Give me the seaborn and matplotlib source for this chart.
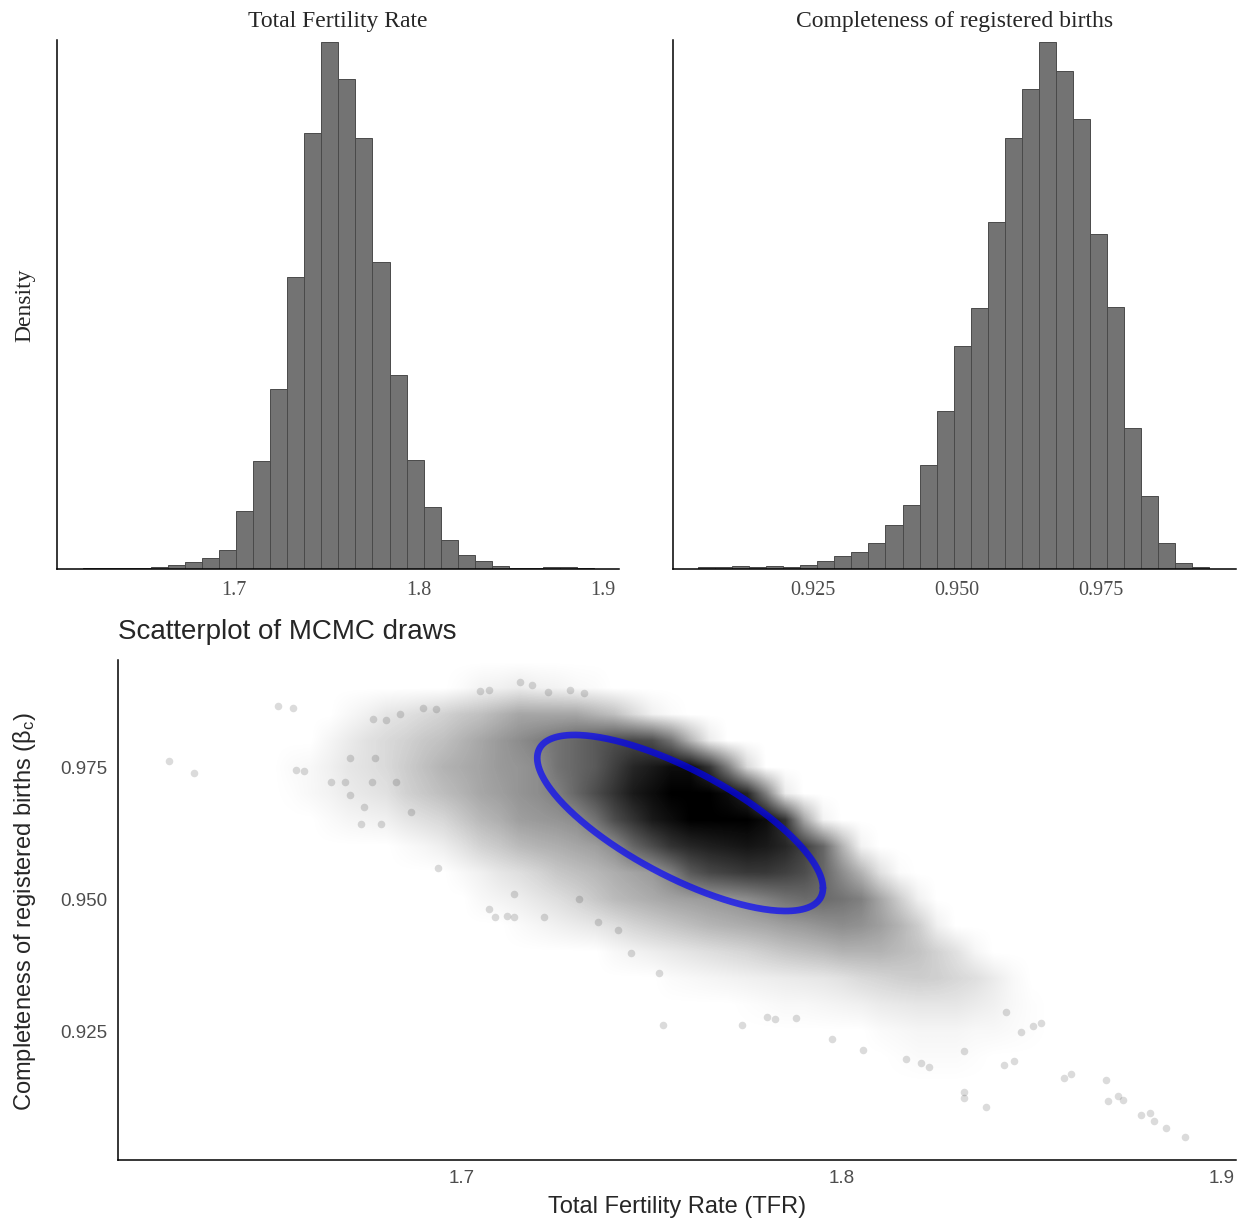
import numpy as np
import pandas as pd
import matplotlib
matplotlib.use("Agg")
import matplotlib.pyplot as plt
import seaborn as sns
from matplotlib.colors import LinearSegmentedColormap

sns.set_style("white")
plt.rcParams["font.family"] = ["Liberation Sans", "DejaVu Sans"]
plt.rcParams["mathtext.fontset"] = "custom"
plt.rcParams["mathtext.rm"] = "Liberation Sans"
plt.rcParams["mathtext.it"] = "Liberation Sans:italic"

SERIF = ["Liberation Serif", "DejaVu Serif"]
SANS = ["Liberation Sans", "DejaVu Sans"]

# --- marginal histograms (30 bins each, heights relative to tallest bar) ---
tfr_bin_start = 1.6182
tfr_bin_width = 0.00923
tfr_heights = [0.0015, 0.0015, 0.0015, 0.002, 0.003, 0.007, 0.0125, 0.021, 0.036, 0.11,
               0.205, 0.342, 0.555, 0.827, 1.0, 0.93, 0.818, 0.583, 0.368, 0.206,
               0.117, 0.055, 0.027, 0.016, 0.005, 0.002, 0.002, 0.004, 0.004, 0.002]

comp_bin_start = 0.90508
comp_bin_width = 0.00296
comp_heights = [0.003, 0.003, 0.005, 0.003, 0.005, 0.004, 0.007, 0.015, 0.024, 0.032,
                0.05, 0.084, 0.122, 0.197, 0.299, 0.423, 0.495, 0.658, 0.818, 0.911,
                1.0, 0.946, 0.854, 0.635, 0.497, 0.268, 0.139, 0.049, 0.011, 0.003]

# --- scatter cloud: how dark the pile of draws is (0-100) on a 0.005 x 0.005 grid ---
cloud_step = 0.005
cloud_tfr_min, cloud_tfr_max = 1.620, 1.900
cloud_comp = [0.995, 0.990, 0.985, 0.980, 0.975, 0.970, 0.965, 0.960, 0.955, 0.950,
              0.945, 0.940, 0.935, 0.930, 0.925, 0.920, 0.915, 0.910, 0.905]
# each row: TFR of the first non-empty cell, then the shades going right
cloud_rows = [
    (1.620, []),
    (1.700, [2, 5, 6, 8, 6, 5, 3, 2]),
    (1.670, [3, 6, 10, 12, 15, 18, 22, 25, 30, 35, 35, 35, 35, 30, 25, 15, 6, 2]),
    (1.665, [4, 8, 12, 15, 18, 22, 25, 30, 35, 40, 45, 50, 55, 60, 65, 70, 72, 70, 55, 30, 8]),
    (1.655, [2, 3, 6, 10, 12, 15, 20, 25, 30, 33, 36, 40, 42, 45, 55, 60, 65, 75, 85, 90,
             95, 95, 80, 50, 15]),
    (1.655, [1, 3, 5, 8, 10, 12, 18, 22, 26, 30, 35, 38, 42, 45, 50, 60, 70, 80, 90, 95,
             100, 100, 100, 95, 85, 50, 8]),
    (1.665, [2, 4, 5, 6, 10, 13, 16, 22, 28, 32, 38, 40, 42, 45, 55, 70, 80, 90, 95, 100,
             100, 100, 100, 95, 80, 35, 5]),
    (1.685, [2, 4, 7, 12, 18, 22, 27, 30, 32, 35, 38, 45, 60, 70, 80, 85, 88, 90, 92, 90,
             85, 75, 60, 30, 5]),
    (1.700, [3, 6, 10, 13, 17, 22, 25, 28, 32, 36, 40, 50, 65, 72, 75, 78, 78, 75, 70, 60,
             45, 30, 12, 2]),
    (1.705, [3, 5, 7, 10, 13, 17, 22, 27, 30, 33, 36, 38, 40, 42, 45, 50, 55, 58, 58, 55,
             50, 35, 20, 6]),
    (1.715, [2, 4, 6, 8, 10, 13, 17, 20, 23, 26, 29, 31, 33, 35, 38, 40, 43, 45, 43, 38,
             30, 20, 6]),
    (1.740, [3, 5, 7, 9, 11, 13, 15, 17, 20, 23, 25, 27, 30, 30, 30, 27, 24, 18, 12, 4]),
    (1.755, [2, 3, 4, 5, 6, 7, 8, 9, 10, 12, 15, 17, 19, 20, 19, 16, 13, 8, 3]),
    (1.775, [1, 2, 3, 3, 4, 5, 6, 8, 9, 10, 10, 10, 8, 6, 3, 1]),
    (1.810, [2, 3, 4, 4, 4, 3, 3, 2, 1]),
    (1.815, [1, 2, 2, 2, 1]),
    (1.620, []),
    (1.620, []),
    (1.620, []),
]

# individual draws visible around the edge of the cloud
fringe_tfr = [1.6230, 1.6296, 1.6517, 1.6555, 1.6563, 1.6584, 1.6656, 1.6691, 1.6705, 1.6733,
              1.6788, 1.6865, 1.6936, 1.6705, 1.6771, 1.6827, 1.6762, 1.6743, 1.6766, 1.6799,
              1.6837, 1.6897, 1.6931, 1.7048, 1.7071, 1.7152, 1.7184, 1.7226, 1.7283, 1.7321,
              1.7070, 1.7086, 1.7118, 1.7137, 1.7137, 1.7217, 1.7307, 1.7358, 1.7410, 1.7445,
              1.7518, 1.7529, 1.7737, 1.7803, 1.7824, 1.7879, 1.7975, 1.8056, 1.8168, 1.8208,
              1.8229, 1.8320, 1.8320, 1.8320, 1.8378, 1.8426, 1.8432, 1.8452, 1.8471, 1.8504,
              1.8523, 1.8584, 1.8603, 1.8695, 1.8700, 1.8726, 1.8740, 1.8787, 1.8811, 1.8821,
              1.8853, 1.8903]
fringe_comp = [0.9761, 0.9739, 0.9866, 0.9862, 0.9744, 0.9742, 0.9721, 0.9722, 0.9697, 0.9642,
               0.9642, 0.9665, 0.9559, 0.9768, 0.9767, 0.9722, 0.9722, 0.9674, 0.9841, 0.9839,
               0.9851, 0.9862, 0.9859, 0.9894, 0.9896, 0.9911, 0.9905, 0.9892, 0.9896, 0.9890,
               0.9482, 0.9465, 0.9467, 0.9465, 0.9510, 0.9466, 0.9500, 0.9456, 0.9442, 0.9397,
               0.9360, 0.9262, 0.9261, 0.9277, 0.9273, 0.9274, 0.9235, 0.9214, 0.9197, 0.9190,
               0.9182, 0.9212, 0.9134, 0.9123, 0.9107, 0.9186, 0.9286, 0.9193, 0.9249, 0.9260,
               0.9265, 0.9161, 0.9169, 0.9157, 0.9118, 0.9127, 0.9119, 0.9091, 0.9094, 0.9080,
               0.9066, 0.9049]

# ellipse overlay (centre, half-extent along each axis, correlation)
ell_center = (1.7574, 0.9644)
ell_half_tfr = 0.0376
ell_half_comp = 0.01667
ell_rho = -0.738

W, H = 1244, 1222
fig = plt.figure(figsize=(W / 100, H / 100), dpi=100)


def box(left, top, right, bottom):
    return [left / W, 1 - bottom / H, (right - left) / W, (bottom - top) / H]


def style_axis(ax, tick_font, tick_size, pad):
    for side in ["top", "right"]:
        ax.spines[side].set_visible(False)
    for side in ["left", "bottom"]:
        ax.spines[side].set_color("black")
        ax.spines[side].set_linewidth(1.1)
    ax.tick_params(axis="both", length=3, width=0.8, color="#333333",
                   labelcolor="#4d4d4d", labelsize=tick_size, pad=pad)
    for lbl in ax.get_xticklabels() + ax.get_yticklabels():
        lbl.set_fontfamily(tick_font)


def draw_hist(ax, start, width, heights, xlim, ticks, labels, title):
    edges = [start + width * k for k in range(len(heights) + 1)]
    df = pd.DataFrame({"value": [e + width / 2 for e in edges[:-1]], "height": heights})
    sns.histplot(data=df, x="value", weights="height", bins=edges, ax=ax,
                 color="#737373", edgecolor="#4a4a4a", linewidth=0.7, alpha=1)
    ax.set_xlim(*xlim)
    ax.set_ylim(0, max(heights) * 1.004)
    ax.set_xticks(ticks)
    ax.set_xticklabels(labels)
    ax.set_yticks([])
    ax.set_xlabel("")
    ax.set_ylabel("")
    ax.set_title(title, fontsize=17, family=SERIF, pad=9)
    style_axis(ax, SERIF, 14.5, 5.5)


ax1 = fig.add_axes(box(57, 40, 619, 569))
draw_hist(ax1, tfr_bin_start, tfr_bin_width, tfr_heights, (1.6044, 1.9085),
          [1.7, 1.8, 1.9], ["1.7", "1.8", "1.9"], "Total Fertility Rate")

ax2 = fig.add_axes(box(673, 40, 1236, 569))
draw_hist(ax2, comp_bin_start, comp_bin_width, comp_heights, (0.90074, 0.99852),
          [0.925, 0.950, 0.975], ["0.925", "0.950", "0.975"], "Completeness of registered births")

fig.text(25 / W, 1 - 305 / H, "Density", rotation=90, ha="center", va="center",
         fontsize=17, family=SERIF)

# --- scatterplot of draws ---
ax3 = fig.add_axes(box(118, 660, 1236, 1160))

n_cols = int(round((cloud_tfr_max - cloud_tfr_min) / cloud_step)) + 1
shade = np.zeros((len(cloud_comp), n_cols))
for i, (first, vals) in enumerate(cloud_rows):
    j0 = int(round((first - cloud_tfr_min) / cloud_step))
    shade[i, j0:j0 + len(vals)] = vals
shade = shade / 100.0

ink = LinearSegmentedColormap.from_list("ink", [(0, 0, 0, 0), (0, 0, 0, 1)])
half = cloud_step / 2
ax3.imshow(shade, cmap=ink, vmin=0, vmax=1, interpolation="bilinear", origin="upper",
           aspect="auto", zorder=1,
           extent=[cloud_tfr_min - half, cloud_tfr_max + half,
                   cloud_comp[-1] - half, cloud_comp[0] + half])
sns.scatterplot(x=fringe_tfr, y=fringe_comp, ax=ax3, color="black", alpha=0.14,
                s=30, linewidth=0, zorder=2)

t = np.linspace(0, 2 * np.pi, 300)
ex = ell_center[0] + ell_half_tfr * np.cos(t)
ey = ell_center[1] + ell_half_comp * (ell_rho * np.cos(t) + np.sqrt(1 - ell_rho ** 2) * np.sin(t))
ax3.plot(ex, ey, color="#0000ff", alpha=0.68, linewidth=4.8, zorder=3)

ax3.set_xlim(1.60947, 1.9037)
ax3.set_ylim(0.90057, 0.99527)
ax3.set_xticks([1.7, 1.8, 1.9])
ax3.set_xticklabels(["1.7", "1.8", "1.9"])
ax3.set_yticks([0.925, 0.950, 0.975])
ax3.set_yticklabels(["0.925", "0.950", "0.975"])
ax3.set_xlabel("")
ax3.set_ylabel("")
style_axis(ax3, SANS, 13.5, 4.5)

fig.text(118 / W, 1 - 632 / H, "Scatterplot of MCMC draws", ha="left", va="center",
         fontsize=20, family=SANS)
fig.text(677 / W, 1 - 1207 / H, "Total Fertility Rate (TFR)", ha="center", va="center",
         fontsize=17, family=SANS)
fig.text(25 / W, 1 - 912 / H, "Completeness of registered births (β$_{\\mathrm{c}}$)",
         rotation=90, ha="center", va="center", fontsize=17, family=SANS)

fig.savefig("out.png", dpi=100)
